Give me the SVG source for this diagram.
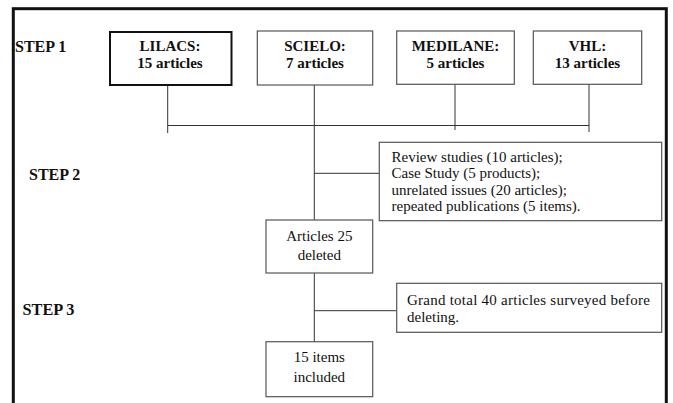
<svg xmlns="http://www.w3.org/2000/svg" width="673" height="403" viewBox="0 0 673 403">
<style>
.box{fill:#fff;stroke:#555;stroke-width:1.2}
.lil{fill:#fff;stroke:#111;stroke-width:2}
.b{font-family:"Liberation Serif","Times New Roman","DejaVu Serif",serif;font-weight:bold;font-size:15px;fill:#111;text-anchor:middle}
.step{font-family:"Liberation Serif","Times New Roman","DejaVu Serif",serif;font-weight:bold;font-size:16px;fill:#111}
.t{font-family:"Liberation Serif","Times New Roman","DejaVu Serif",serif;font-size:15px;fill:#111}
.c{text-anchor:middle}
.ln{stroke:#333;stroke-width:1;fill:none}
</style>
<rect x="0" y="0" width="673" height="403" fill="#fff"/>
<rect x="13.3" y="8.7" width="653" height="420" fill="none" stroke="#111" stroke-width="3"/>
<g id="labels">
<text class="step" x="15" y="52">STEP 1</text>
<text class="step" x="29" y="179.5">STEP 2</text>
<text class="step" x="22.5" y="315" textLength="52" lengthAdjust="spacingAndGlyphs">STEP 3</text>
</g>
<g id="connectors">
<path class="ln" d="M167.7 84 V133 M314.3 84 V220 M455 76 V130 M589 76 V132 M167.7 125.5 H589 M314.3 173.3 H379.3 M314.3 273 V341.7 M314.3 310.7 H396.7"/>
</g>
<g id="lilacs">
<rect class="lil" x="110" y="32" width="121.5" height="53"/>
<text class="b" x="170" y="51">LILACS:</text>
<text class="b" x="170" y="67.5">15 articles</text>
</g>
<g id="scielo">
<rect class="box" x="257.3" y="31" width="115.4" height="54"/>
<text class="b" x="315" y="51">SCIELO:</text>
<text class="b" x="315" y="67.5">7 articles</text>
</g>
<g id="medilane">
<rect class="box" x="396.7" y="31" width="117.6" height="53.3"/>
<text class="b" x="455.5" y="51">MEDILANE:</text>
<text class="b" x="455.5" y="67.5">5 articles</text>
</g>
<g id="vhl">
<rect class="box" x="533.3" y="31" width="108.4" height="53.3"/>
<text class="b" x="587.5" y="51">VHL:</text>
<text class="b" x="587.5" y="67.5">13 articles</text>
</g>
<g id="exclusions">
<rect class="box" x="379.3" y="142.3" width="282.4" height="78.4"/>
<text class="t" x="391.5" y="161.5">Review studies (10 articles);</text>
<text class="t" x="391.5" y="178">Case Study (5 products);</text>
<text class="t" x="391.5" y="194.5">unrelated issues (20 articles);</text>
<text class="t" x="391.5" y="211">repeated publications (5 items).</text>
</g>
<g id="deleted">
<rect class="box" x="266" y="220" width="106.7" height="53"/>
<text class="t c" x="319.3" y="240.5">Articles 25</text>
<text class="t c" x="319.3" y="260">deleted</text>
</g>
<g id="total">
<rect class="box" x="396.7" y="283.3" width="265" height="49"/>
<text class="t" x="407" y="305" textLength="243" lengthAdjust="spacing">Grand total 40 articles surveyed before</text>
<text class="t" x="407" y="322">deleting.</text>
</g>
<g id="included">
<rect class="box" x="266" y="341.7" width="106.7" height="55"/>
<text class="t c" x="319.3" y="361.5">15 items</text>
<text class="t c" x="319.3" y="381.5">included</text>
</g>
</svg>
